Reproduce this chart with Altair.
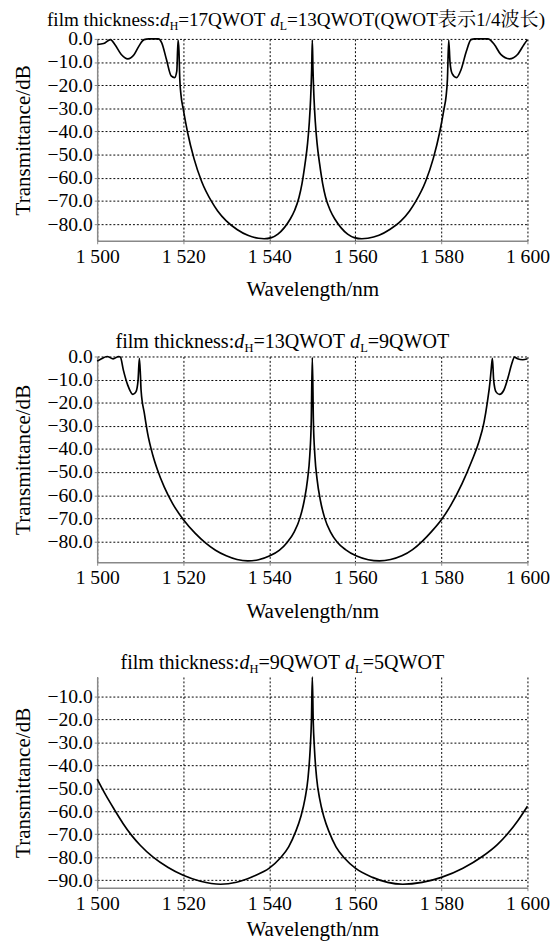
import altair as alt
import pandas as pd

# ---------------- data ----------------
wl1 = [1500, 1501.5, 1503.1, 1504.1, 1505.6, 1507.1, 1508.6, 1509.7, 1510.9, 1512, 1514.2,
       1515, 1516.1, 1517.2, 1518, 1518.5, 1518.8, 1519.0, 1519.2, 1519.5, 1520, 1521, 1522.5,
       1524.3, 1526.6, 1528, 1530, 1532.5, 1535, 1537.5, 1538.8, 1540.5, 1542, 1543.5, 1544.8,
       1545.9, 1546.9, 1547.6, 1548.3, 1548.9, 1549.3, 1549.6, 1549.85, 1550, 1550.15, 1550.4,
       1550.7, 1551.1, 1551.7, 1552.4, 1553.1, 1554.15, 1555.3, 1556.65, 1558.2, 1559.75,
       1561.5, 1562.9, 1565.5, 1568, 1570.6, 1572.6, 1574, 1576.3, 1578.1, 1579.6, 1580.6,
       1581.1, 1581.4, 1581.7, 1582.0, 1582.5, 1583.5, 1584.6, 1585.8, 1586.9, 1587.7, 1590.8,
       1592.3, 1593.8, 1595.8, 1597.7, 1599.2, 1600]
db1 = [-2.4, -2.0, -0.3, -2.4, -6.7, -8.6, -6.7, -3.1, -0.3, 0, 0,
       -1.7, -8.9, -16, -16.7, -13.9, -0.5, -5, -17.4, -24.6, -30.3, -40.3, -51.7,
       -61.7, -70.3, -74.3, -78.6, -82.3, -84.8, -86.1, -86.3, -85.8, -84.3, -81.5, -78,
       -74, -68.5, -62.5, -54, -45, -36, -26, -13, -0.5, -13, -26,
       -36, -45, -54, -62.5, -68.5, -74, -78, -81.5, -84.3, -85.8,
       -86.3, -86.1, -84.8, -82.3, -78.6, -74.3, -70.3, -61.7, -51.7, -40.3, -30.3,
       -24.6, -17.4, -0.5, -10, -15, -16.7, -13.1, -5.3, -0.3, 0, 0,
       -2.4, -6.7, -8.6, -6.7, -2.4, -0.3]

wl2 = [1500, 1501, 1502.3, 1503.7, 1505, 1505.4, 1506.1, 1507.1, 1508.3, 1509, 1509.5, 1509.8,
       1510.05, 1510.2, 1511, 1511.7, 1512.9, 1514, 1515.6, 1517.5, 1520, 1522.8, 1525.1,
       1527.5, 1530, 1532.5, 1535, 1537.5, 1540, 1542.3, 1544.2, 1545.8, 1547.1, 1548.1, 1548.9,
       1549.4, 1549.75, 1550, 1550.25, 1550.6, 1551.1, 1551.9, 1552.9, 1554.2, 1555.8, 1557.7,
       1560.3, 1563, 1565.6, 1568.2, 1570.8, 1573.3, 1575.6, 1577.8, 1580, 1582.1, 1584.8,
       1587.1, 1588.7, 1589.9, 1590.7, 1591.3, 1591.6, 1591.85, 1592.15, 1592.7, 1593.5,
       1594.5, 1595.5, 1596.3, 1597, 1597.7, 1598.9, 1600]
db2 = [-2, -1, 0, -1, 0, -0.3, -6, -12.4, -16.4, -15.3, -10.3, -0.8,
       -8, -14.6, -25, -33, -42.5, -49, -56.5, -63.5, -70.5, -76.5, -80.5,
       -83.8, -86.2, -87.8, -88.4, -87.9, -86.3, -83.8, -80.3, -75.8, -70, -62.5, -53,
       -43, -28, -0.5, -28, -43, -53, -62.5, -70, -75.8, -80.3, -83.5,
       -86.3, -87.9, -88.4, -87.8, -86.2, -83.5, -79.8, -75.5, -70.6, -64.6, -55,
       -45, -37, -28.5, -19.5, -11, -5, -0.8, -10.3, -15.3, -16.4,
       -14.6, -9, -3.5, -0.3, -1, -1.4, -1]

wl3 = [1500, 1502, 1504, 1506, 1508, 1510, 1513, 1516.5, 1520, 1524, 1528.7, 1532.4, 1536.2,
       1540, 1542.5, 1544.5, 1546.1, 1547.3, 1548.3, 1549, 1549.5, 1549.8, 1550, 1550.2,
       1550.5, 1551, 1551.7, 1552.7, 1553.9, 1555.5, 1557.5, 1560, 1564, 1567.5, 1571,
       1575.5, 1580, 1585, 1589.5, 1593, 1595.3, 1597.8, 1600]
db3 = [-46, -53, -59.3, -65.3, -70.5, -74.8, -80, -84.5, -87.9, -90.5, -91.8, -90.9, -88.4,
       -84.8, -80.5, -75.5, -69, -62.5, -54.5, -45.5, -33, -20, -1.5, -20,
       -33, -45.5, -54.5, -62.5, -69, -75.5, -80.5, -84.8, -88.8, -91, -91.8,
       -91, -88.8, -84.8, -79.7, -74.5, -70, -64, -57.8]

# title pieces: (text, style)  style: n = normal, i = italic, s = subscript
title1 = [("film thickness:", "n"), ("d", "i"), ("H", "s"), ("=17QWOT ", "n"), ("d", "i"),
          ("L", "s"), ("=13QWOT(QWOT表示1/4波长)", "n")]
title2 = [("film thickness:", "n"), ("d", "i"), ("H", "s"), ("=13QWOT ", "n"), ("d", "i"),
          ("L", "s"), ("=9QWOT", "n")]
title3 = [("film thickness:", "n"), ("d", "i"), ("H", "s"), ("=9QWOT ", "n"), ("d", "i"),
          ("L", "s"), ("=5QWOT", "n")]

x_ticks = [1500, 1520, 1540, 1560, 1580, 1600]
y_ticks_12 = [0, -10, -20, -30, -40, -50, -60, -70, -80]
y_ticks_3 = [-10, -20, -30, -40, -50, -60, -70, -80, -90]

FONT = "Liberation Serif, 'Times New Roman', 'Noto Serif CJK SC', 'Noto Sans CJK SC', serif"
SUB = 0.62       # subscript scale
PLOT_W = 439

# Times / Liberation Serif advance widths (1/1000 em)
ADV = {' ': 250, '(': 333, ')': 333, '/': 278, ':': 278, '=': 564, 'H': 722, 'L': 611,
       'O': 722, 'Q': 722, 'T': 611, 'W': 944, 'a': 444, 'c': 444, 'd': 500, 'e': 444,
       'f': 333, 'h': 500, 'i': 278, 'k': 500, 'l': 278, 'm': 778, 'n': 500, 's': 389,
       't': 278}
for _d in "0123456789":
    ADV[_d] = 500


def seg_width(text, style, fs0):
    fs = fs0 * (SUB if style == "s" else 1.0)
    return sum((ADV.get(ch, 1000) / 1000.0) * fs for ch in text)


def title_layers(segs, fs0, base, right=None, center=None):
    total = sum(seg_width(t, s, fs0) for t, s in segs)
    start = (right - total) if right is not None else (center - total / 2.0)
    layers = []
    x = start
    for t, s in segs:
        df = pd.DataFrame({"t": [t]})
        if s == "s":
            m = alt.Chart(df).mark_text(align="left", baseline="alphabetic", font=FONT,
                                        fontSize=fs0 * SUB, color="black")
            yv = base + 4
        else:
            m = alt.Chart(df).mark_text(align="left", baseline="alphabetic", font=FONT,
                                        fontSize=fs0, color="black",
                                        fontStyle=("italic" if s == "i" else "normal"))
            yv = base
        layers.append(m.encode(text="t:N", x=alt.value(x), y=alt.value(yv)))
        x += seg_width(t, s, fs0)
    return layers


def panel(wl, db, segs, fs0, ydom, yticks, h, base, xtp, right=None, center=None):
    df = pd.DataFrame({"wl": wl, "db": db})
    line = (
        alt.Chart(df)
        .mark_line(color="black", strokeWidth=1.7, interpolate="monotone")
        .encode(
            x=alt.X("wl:Q", scale=alt.Scale(domain=[1500, 1600], nice=False, zero=False),
                    axis=alt.Axis(values=x_ticks, title="Wavelength/nm",
                                  labelExpr="replace(format(datum.value, ','), ',', ' ')",
                                  titlePadding=xtp, labelPadding=3, labelFlush=False,
                                  labelOverlap=False)),
            y=alt.Y("db:Q", scale=alt.Scale(domain=ydom, nice=False, zero=False),
                    axis=alt.Axis(values=yticks, format=".1f", title="Transmittance/dB",
                                  titlePadding=13, labelPadding=2, labelFlush=False,
                                  labelOverlap=False)),
        )
    )
    return alt.layer(line, *title_layers(segs, fs0, base, right=right, center=center)).properties(
        width=PLOT_W, height=h)


chart = (
    alt.vconcat(
        panel(wl1, db1, title1, 19.5, [-87.2, 0], y_ticks_12, 206, -13, 13, right=457),
        panel(wl2, db2, title2, 20.5, [-89.0, 0], y_ticks_12, 210, -9, 13, center=189),
        panel(wl3, db3, title3, 20.5, [-93.3, -1.5], y_ticks_3, 215, -8, 6, center=189),
        spacing=32,
    )
    .configure_view(stroke=None)
    .configure_axis(
        labelFont=FONT, labelFontSize=20, labelColor="black",
        titleFont=FONT, titleFontSize=21.5, titleFontWeight="normal", titleColor="black",
        domainColor="#888888", domainWidth=1.5,
        tickColor="#888888", tickSize=3,
        grid=True, gridColor="black", gridDash=[2, 2], gridWidth=1, gridOpacity=1,
    )
    .properties(padding={"left": 4, "right": 0, "top": -7, "bottom": 0})
)

chart.save("out.html", embed_options={"renderer": "svg", "actions": False})
